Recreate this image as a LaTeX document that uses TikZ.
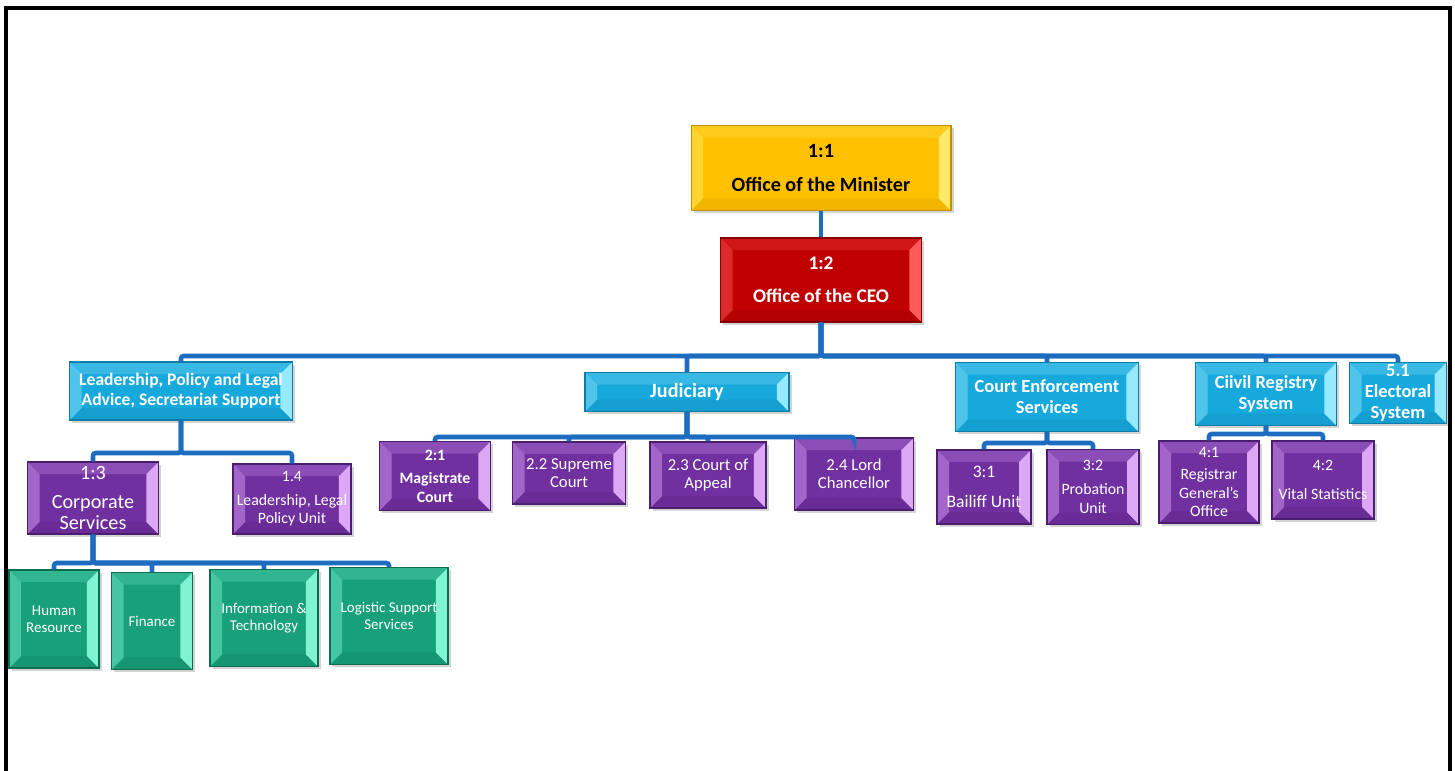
\documentclass[tikz,border=0pt]{standalone}
\usepackage{fontspec}
\setmainfont{Carlito}
\usepackage{xcolor}
\usetikzlibrary{shadows}

\definecolor{yel}{HTML}{FFC000}
\definecolor{yelHi}{HTML}{FFEA6A}
\definecolor{yelLo}{HTML}{C28F00}
\definecolor{red}{HTML}{C00000}
\definecolor{redHi}{HTML}{FF5A5A}
\definecolor{redLo}{HTML}{850000}
\definecolor{cya}{HTML}{17A8DC}
\definecolor{cyaHi}{HTML}{96E9FF}
\definecolor{cyaLo}{HTML}{0C7DA6}
\definecolor{pur}{HTML}{7030A0}
\definecolor{purHi}{HTML}{DCA8F6}
\definecolor{purLo}{HTML}{4B1D6E}
\definecolor{grn}{HTML}{17A07A}
\definecolor{grnHi}{HTML}{80F3D2}
\definecolor{grnLo}{HTML}{0D6B51}
\definecolor{linkblue}{HTML}{1E6CC0}

\newcommand\bevelsize{0.24cm}

\begin{document}
\begin{tikzpicture}[
    x=0.02cm, y=-0.02cm,
    panel/.style={rectangle, draw=#1Lo, line width=0.6pt, fill=#1, inner sep=0pt, align=center,
      drop shadow={shadow xshift=1.5pt, shadow yshift=-1.5pt, opacity=0.35},
      path picture={
        \coordinate (bbsw) at (path picture bounding box.south west);
        \coordinate (bbse) at (path picture bounding box.south east);
        \coordinate (bbnw) at (path picture bounding box.north west);
        \coordinate (bbne) at (path picture bounding box.north east);
        \coordinate (insw) at ([shift={(\bevelsize,\bevelsize)}]bbsw);
        \coordinate (inse) at ([shift={(-\bevelsize,\bevelsize)}]bbse);
        \coordinate (innw) at ([shift={(\bevelsize,-\bevelsize)}]bbnw);
        \coordinate (inne) at ([shift={(-\bevelsize,-\bevelsize)}]bbne);
        \fill[#1!75!#1Hi] (bbnw) -- (bbne) -- (inne) -- (innw) -- cycle;
        \fill[#1!80!#1Lo] (bbsw) -- (bbse) -- (inse) -- (insw) -- cycle;
        \fill[#1!55!#1Hi] (bbsw) -- (bbnw) -- (innw) -- (insw) -- cycle;
        \fill[#1Hi] (bbse) -- (bbne) -- (inne) -- (inse) -- cycle;
      }},
    minbox/.style={panel=yel, text=black, font=\bfseries\fontsize{11.5}{14}\selectfont},
    ceobox/.style={panel=red, text=white, font=\bfseries\fontsize{11}{14}\selectfont},
    unitbox/.style={panel=cya, text=white, font=\bfseries\fontsize{10.5}{12}\selectfont},
    subbox/.style={panel=pur, text=white, font=\fontsize{9}{10.5}\selectfont},
    teambox/.style={panel=grn, text=white, font=\fontsize{8.5}{9.8}\selectfont},
    link/.style={draw=linkblue, line width=2.6pt, rounded corners=1.5pt}
  ]
    \useasboundingbox (0,0) rectangle (1455,771);

    % top of the chart
    \node[minbox, minimum width=5.2cm, minimum height=1.7cm] (min) at (821,168) {1:1\\[5pt]Office of the Minister};
    \node[ceobox, minimum width=4.02cm, minimum height=1.68cm] (ceo) at (821,280) {1:2\\[5pt]Office of the CEO};

    % departments
    \node[unitbox, font=\bfseries\fontsize{10}{11.5}\selectfont, minimum width=4.46cm, minimum height=1.16cm] (lead) at (181,391) {Leadership, Policy and Legal\\Advice, Secretariat Support};
    \node[unitbox, font=\bfseries\fontsize{11.5}{13}\selectfont, minimum width=4.08cm, minimum height=0.78cm] (jud) at (687,392) {Judiciary};
    \node[unitbox, minimum width=3.66cm, minimum height=1.38cm] (enf) at (1047,397) {Court Enforcement\\Services};
    \node[unitbox, minimum width=2.82cm, minimum height=1.26cm] (reg) at (1266,394) {Ciivil Registry\\System};
    \node[unitbox, minimum width=1.94cm, minimum height=1.22cm] (elec) at (1398,393) {5.1\\Electoral\\System};

    % units
    \node[subbox, font=\fontsize{11.5}{12}\selectfont, minimum width=2.62cm, minimum height=1.44cm] (corp) at (93,498) {1:3\\[4pt]Corporate\\Services};
    \node[subbox, minimum width=2.36cm, minimum height=1.4cm] (legal) at (292,499) {1.4\\[3pt]Leadership, Legal\\Policy Unit};
    \node[subbox, font=\bfseries\fontsize{9}{10.5}\selectfont, minimum width=2.22cm, minimum height=1.38cm] (mag) at (435,476) {2:1\\[3pt]Magistrate\\Court};
    \node[subbox, font=\fontsize{9.5}{10.5}\selectfont, minimum width=2.26cm, minimum height=1.24cm] (sup) at (569,473) {2.2 Supreme\\Court};
    \node[subbox, font=\fontsize{9.5}{10.5}\selectfont, minimum width=2.32cm, minimum height=1.32cm] (app) at (708,475) {2.3 Court of\\Appeal};
    \node[subbox, font=\fontsize{9.5}{10.5}\selectfont, minimum width=2.38cm, minimum height=1.44cm] (lord) at (854,474) {2.4 Lord\\Chancellor};
    \node[subbox, font=\fontsize{10}{11}\selectfont, minimum width=1.88cm, minimum height=1.48cm] (bail) at (984,487) {3:1\\[6pt]Bailiff Unit};
    \node[subbox, minimum width=1.84cm, minimum height=1.5cm] (prob) at (1093,487) {3:2\\[3pt]Probation\\Unit};
    \node[subbox, minimum width=2.0cm, minimum height=1.64cm] (regn) at (1209,482) {4:1\\[2pt]Registrar\\General's\\Office};
    \node[subbox, minimum width=2.04cm, minimum height=1.56cm] (vital) at (1323,480) {4:2\\[6pt]Vital Statistics};

    % corporate teams
    \node[teambox, minimum width=1.8cm, minimum height=1.96cm] (hr) at (54,619) {Human\\Resource};
    \node[teambox, minimum width=1.62cm, minimum height=1.94cm] (fin) at (152,621) {Finance};
    \node[teambox, minimum width=2.16cm, minimum height=1.94cm] (it) at (264,618) {Information \&\\Technology};
    \node[teambox, minimum width=2.36cm, minimum height=1.94cm] (log) at (389,616) {Logistic Support\\Services};

    % bars of the tree
    \coordinate (ceo-bar) at (821,356);
    \coordinate (lead-bar) at (181,453);
    \coordinate (jud-bar) at (687,437);
    \coordinate (enf-bar) at (1047,443);
    \coordinate (reg-bar) at (1266,434);
    \coordinate (corp-bar) at (93,563);

    \draw[link] (min) -- (ceo);
    \foreach \c in {lead, jud, enf, reg, elec}
      \draw[link] (ceo.south) -- (ceo-bar) -| (\c.north);
    \foreach \c in {corp, legal}
      \draw[link] (lead.south) -- (lead-bar) -| (\c.north);
    \foreach \c in {mag, sup, app, lord}
      \draw[link] (jud.south) -- (jud-bar) -| (\c.north);
    \foreach \c in {bail, prob}
      \draw[link] (enf.south) -- (enf-bar) -| (\c.north);
    \foreach \c in {regn, vital}
      \draw[link] (reg.south) -- (reg-bar) -| (\c.north);
    \foreach \c in {hr, fin, it, log}
      \draw[link] (corp.south) -- (corp-bar) -| (\c.north);

    % page frame
    \draw[line width=1.8pt] (6,771) -- (6,8) -- (1450,8) -- (1450,771);
  \end{tikzpicture}
\end{document}
